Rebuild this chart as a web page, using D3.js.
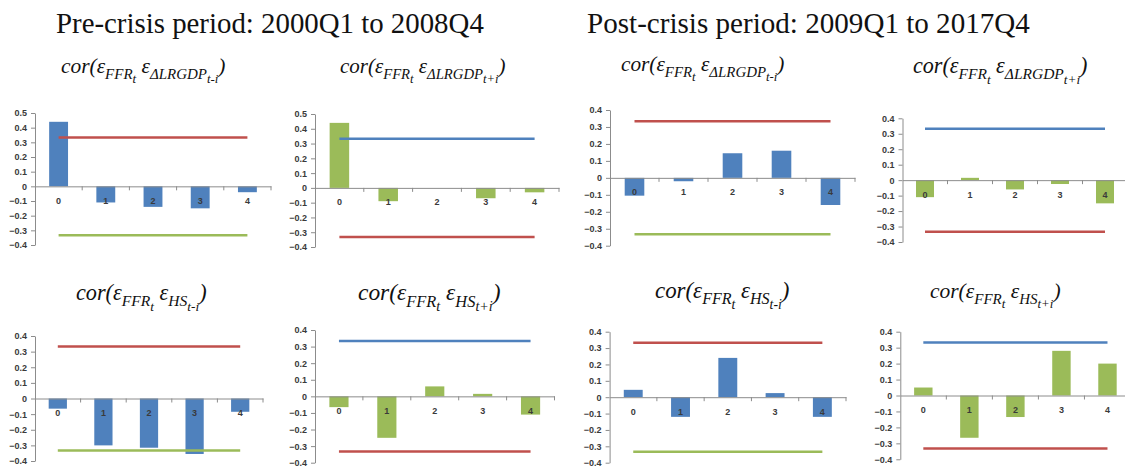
<!DOCTYPE html>
<html>
<head>
<meta charset="utf-8">
<script src="https://cdn.jsdelivr.net/npm/d3@7"></script>
<style>
  html, body { margin: 0; padding: 0; background: #fff; }
  svg { display: block; }
</style>
</head>
<body>
<svg id="chart" width="1125" height="470"></svg>
<script>
// Lag categories shared by every panel
const categories = ["0", "1", "2", "3", "4"];

// Correlations of FFR shocks with lagged / leading GDP growth and housing-start shocks
const preGdpLag   = [0.44, -0.11, -0.14, -0.15, -0.04];
const preGdpLead  = [0.44, -0.09, 0.00, -0.07, -0.03];
const postGdpLag  = [-0.105, -0.02, 0.145, 0.16, -0.16];
const postGdpLead = [-0.11, 0.015, -0.06, -0.025, -0.15];
const preHsLag    = [-0.065, -0.30, -0.315, -0.355, -0.085];
const preHsLead   = [-0.065, -0.25, 0.06, 0.015, -0.11];
const postHsLag   = [0.045, -0.12, 0.24, 0.025, -0.12];
const postHsLead  = [0.05, -0.265, -0.135, 0.28, 0.20];

// Significance bounds (±2/√T, T = 36 quarters)
const boundUpper = [0.333, 0.333, 0.333, 0.333, 0.333];
const boundLower = [-0.333, -0.333, -0.333, -0.333, -0.333];

// Y-axis tick labels
const ticksWide   = [0.5, 0.4, 0.3, 0.2, 0.1, 0, -0.1, -0.2, -0.3, -0.4];
const ticksNarrow = [0.4, 0.3, 0.2, 0.1, 0, -0.1, -0.2, -0.3, -0.4];

const periodTitles = ["Pre-crisis period: 2000Q1 to 2008Q4", "Post-crisis period: 2009Q1 to 2017Q4"];

const BLUE = "#4f81bd", RED = "#c0504d", GREEN = "#9bbb59", AXIS = "#8c8c8c", LABEL = "#3a3a3a";

const svg = d3.select("#chart");

// Panel layout: plot extents in pixels
const panels = [
  { vals: preGdpLag,   ticks: ticksWide,   x0: 35,  x1: 271,  yTop: 113,   yBot: 245,   bar: BLUE,  up: RED,  lo: GREEN },
  { vals: preGdpLead,  ticks: ticksWide,   x0: 315, x1: 559,  yTop: 114,   yBot: 247,   bar: GREEN, up: BLUE, lo: RED },
  { vals: postGdpLag,  ticks: ticksNarrow, x0: 610, x1: 855,  yTop: 110,   yBot: 245.7, bar: BLUE,  up: RED,  lo: GREEN },
  { vals: postGdpLead, ticks: ticksNarrow, x0: 902.5, x1: 1127.5, yTop: 118.3, yBot: 242, bar: GREEN, up: BLUE, lo: RED },
  { vals: preHsLag,    ticks: ticksNarrow, x0: 35,  x1: 263,  yTop: 336,   yBot: 461,   bar: BLUE,  up: RED,  lo: GREEN },
  { vals: preHsLead,   ticks: ticksNarrow, x0: 315, x1: 554.5, yTop: 330,  yBot: 462.7, bar: GREEN, up: BLUE, lo: RED },
  { vals: postHsLag,   ticks: ticksNarrow, x0: 609.6, x1: 846, yTop: 331.7, yBot: 462.7, bar: BLUE, up: RED,  lo: GREEN },
  { vals: postHsLead,  ticks: ticksNarrow, x0: 900.3, x1: 1130.5, yTop: 331.7, yBot: 459.3, bar: GREEN, up: BLUE, lo: RED }
];

panels.forEach(p => {
  const g = svg.append("g");
  const x = d3.scaleBand().domain(categories).range([p.x0, p.x1]);
  const y = d3.scaleLinear().domain([d3.min(p.ticks), d3.max(p.ticks)]).range([p.yBot, p.yTop]);
  const bw = x.bandwidth() * 0.4;
  const cx = c => x(c) + x.bandwidth() / 2;

  // y axis
  const ya = d3.axisLeft(y).tickValues(p.ticks).tickSize(4).tickSizeOuter(0).tickPadding(4)
    .tickFormat(d => d === 0 ? "0" : d3.format(".1f")(d));
  const yg = g.append("g").attr("transform", `translate(${p.x0},0)`).call(ya);
  yg.select(".domain").attr("stroke", AXIS);
  yg.selectAll(".tick line").attr("stroke", AXIS);
  yg.selectAll("text").attr("fill", LABEL).attr("font-family", "Liberation Sans, Arial, sans-serif")
    .attr("font-size", 9).attr("font-weight", "bold");

  // bars
  g.selectAll("rect.bar").data(p.vals).join("rect")
    .attr("class", "bar")
    .attr("x", (d, i) => cx(categories[i]) - bw / 2)
    .attr("width", bw)
    .attr("y", d => y(Math.max(0, d)))
    .attr("height", d => Math.abs(y(d) - y(0)))
    .attr("fill", p.bar);

  // x axis along zero
  const xa = d3.axisBottom(x).tickSize(0).tickPadding(11);
  const xg = g.append("g").attr("transform", `translate(0,${y(0)})`).call(xa);
  xg.select(".domain").attr("stroke", AXIS);
  xg.selectAll("text").attr("fill", LABEL).attr("font-family", "Liberation Sans, Arial, sans-serif")
    .attr("font-size", 9).attr("font-weight", "bold");
  // tick marks at category boundaries
  g.selectAll("line.xt").data(categories).join("line")
    .attr("class", "xt")
    .attr("x1", (d, i) => p.x0 + (i + 1) * x.step())
    .attr("x2", (d, i) => p.x0 + (i + 1) * x.step())
    .attr("y1", y(0)).attr("y2", y(0) + 4)
    .attr("stroke", AXIS);

  // significance bounds
  const line = d3.line().x((d, i) => cx(categories[i])).y(d => y(d));
  g.append("path").datum(boundUpper).attr("d", line).attr("fill", "none").attr("stroke", p.up).attr("stroke-width", 2.5);
  g.append("path").datum(boundLower).attr("d", line).attr("fill", "none").attr("stroke", p.lo).attr("stroke-width", 2.5);
});

// Period titles, fitted to their span
function fitText(sel, width) {
  const w = sel.node().getComputedTextLength();
  const fs = parseFloat(sel.attr("font-size"));
  sel.attr("font-size", fs * width / w);
}
const titleSpans = [[56, 484], [587, 1030]];
periodTitles.forEach((t, i) => {
  const el = svg.append("text")
    .attr("x", titleSpans[i][0]).attr("y", 33)
    .attr("font-family", "Liberation Serif, 'DejaVu Serif', serif")
    .attr("font-size", 26).attr("fill", "#111").text(t);
  fitText(el, titleSpans[i][1] - titleSpans[i][0]);
});

// Panel captions: cor(ε_FFR_t ε_X_{t∓i})
const captionSpec = [
  { x: 61,  y: 73, w: 165, v: "ΔLRGDP", s: "t-i" },
  { x: 340, y: 73, w: 166, v: "ΔLRGDP", s: "t+i" },
  { x: 621, y: 71, w: 164, v: "ΔLRGDP", s: "t-i" },
  { x: 913, y: 73, w: 175, v: "ΔLRGDP", s: "t+i" },
  { x: 76,  y: 300, w: 131, v: "HS", s: "t-i" },
  { x: 358, y: 300, w: 143, v: "HS", s: "t+i" },
  { x: 655, y: 298, w: 135, v: "HS", s: "t-i" },
  { x: 930, y: 298, w: 131, v: "HS", s: "t+i" }
];
captionSpec.forEach(c => {
  const S = 20;
  const t = svg.append("text").attr("x", c.x).attr("y", c.y)
    .attr("font-family", "Liberation Serif, 'DejaVu Serif', serif")
    .attr("font-style", "italic").attr("fill", "#111").attr("font-size", S);
  t.append("tspan").text("cor(");
  t.append("tspan").text("ε");
  t.append("tspan").attr("font-size", S * 0.7).attr("dy", S * 0.28).text("FFR");
  t.append("tspan").attr("font-size", S * 0.6).attr("dy", S * 0.2).text("t");
  t.append("tspan").attr("dy", -S * 0.48).text(" ε");
  t.append("tspan").attr("font-size", S * 0.7).attr("dy", S * 0.28).text(c.v);
  t.append("tspan").attr("font-size", S * 0.6).attr("dy", S * 0.2).text(c.s);
  t.append("tspan").attr("dy", -S * 0.48).text(")");
  const w = t.node().getBBox().width;
  const k = c.w / w;
  t.attr("transform", `translate(${c.x},${c.y}) scale(${k}) translate(${-c.x},${-c.y})`);
});
</script>
</body>
</html>
